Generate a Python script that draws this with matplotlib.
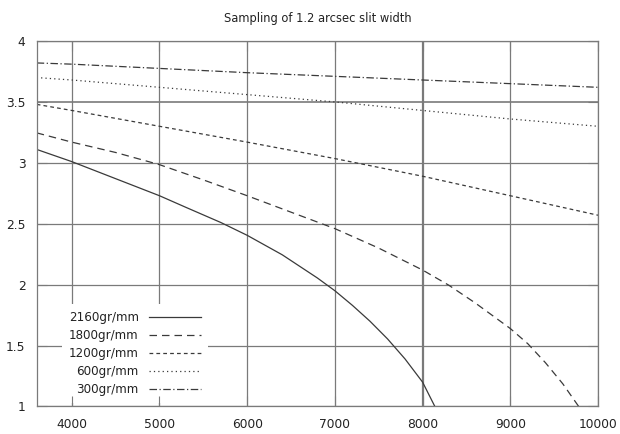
import numpy as np
import matplotlib
matplotlib.use('Agg')
import matplotlib.pyplot as plt

# wavelength grid (Angstrom) and sampling for each grating
wl = [3600, 4000, 5000, 6000, 7000, 8000, 9000, 10000]

wl_2160 = [3600, 4000, 4500, 5000, 5300, 5700, 6000, 6400, 6800, 7000,
           7200, 7400, 7600, 7800, 8000, 8140]
samp_2160 = [3.11, 3.01, 2.87, 2.73, 2.635, 2.51, 2.405, 2.245, 2.055, 1.95,
             1.83, 1.70, 1.555, 1.39, 1.20, 1.0]

wl_1800 = [3600, 4000, 4500, 5000, 5500, 6000, 6500, 7000, 7500, 8000,
           8300, 8600, 9000, 9200, 9400, 9600, 9780]
samp_1800 = [3.246, 3.17, 3.085, 2.985, 2.86, 2.73, 2.595, 2.46, 2.30, 2.12,
             1.995, 1.85, 1.64, 1.515, 1.36, 1.185, 1.0]

samp_1200 = [3.48, 3.43, 3.30, 3.17, 3.035, 2.89, 2.73, 2.57]
samp_600 = [3.70, 3.68, 3.62, 3.56, 3.50, 3.43, 3.36, 3.30]
samp_300 = [3.82, 3.81, 3.775, 3.74, 3.71, 3.68, 3.65, 3.62]

xticks = [4000, 5000, 6000, 7000, 8000, 9000, 10000]
yticks = [1, 1.5, 2, 2.5, 3, 3.5, 4]

fig = plt.figure(figsize=(6.2, 4.34), dpi=100)
ax = fig.add_axes([0.0592, 0.0634, 0.9053, 0.8421])

gc = '#7a7a7a'
# grid drawn by hand so the key box can sit on top of it
for x in xticks:
    ax.axvline(x, color=gc, lw=1.6 if x == 8000 else 0.9, zorder=0.6)
for y in yticks:
    ax.axhline(y, color=gc, lw=1.2 if y == 3.5 else 0.9, zorder=0.6)

lc = '#3a3a3a'
ax.plot(wl_2160, samp_2160, color=lc, lw=0.9, ls='-', label='2160gr/mm')
ax.plot(wl_1800, samp_1800, color=lc, lw=0.9, ls=(0, (6, 4)), label='1800gr/mm')
ax.plot(wl, samp_1200, color=lc, lw=0.9, ls=(0, (3, 2.5)), label='1200gr/mm')
ax.plot(wl, samp_600, color=lc, lw=0.9, ls=(0, (1, 2.5)), label='600gr/mm')
ax.plot(wl, samp_300, color=lc, lw=0.9, ls=(0, (6, 2, 1, 2)), label='300gr/mm')

ax.set_xlim(3600, 10000)
ax.set_ylim(1, 4)
ax.set_xticks(xticks)
ax.set_yticks(yticks)
ax.set_yticklabels(['1', '1.5', '2', '2.5', '3', '3.5', '4'])
ax.tick_params(direction='in', length=7, width=0.8, color=gc,
               top=True, right=True, labelsize=8.8, pad=8, labelcolor='#222222')
for s in ax.spines.values():
    s.set_color(gc)
    s.set_linewidth(0.9)

ax.set_title('Sampling of 1.2 arcsec slit width', fontsize=8.3, pad=14,
             color='#222222')

leg = ax.legend(loc='upper right', bbox_to_anchor=(208 / 620, 1 - 304 / 434),
                bbox_transform=fig.transFigure, borderaxespad=0, fontsize=8.6,
                markerfirst=False, handlelength=4.3, handletextpad=0.9,
                labelspacing=0.42, borderpad=0.6, fancybox=False,
                framealpha=1, facecolor='white', edgecolor='none')
for t in leg.get_texts():
    t.set_color('#222222')
leg.set_zorder(1)

fig.savefig('out.png', dpi=100)
